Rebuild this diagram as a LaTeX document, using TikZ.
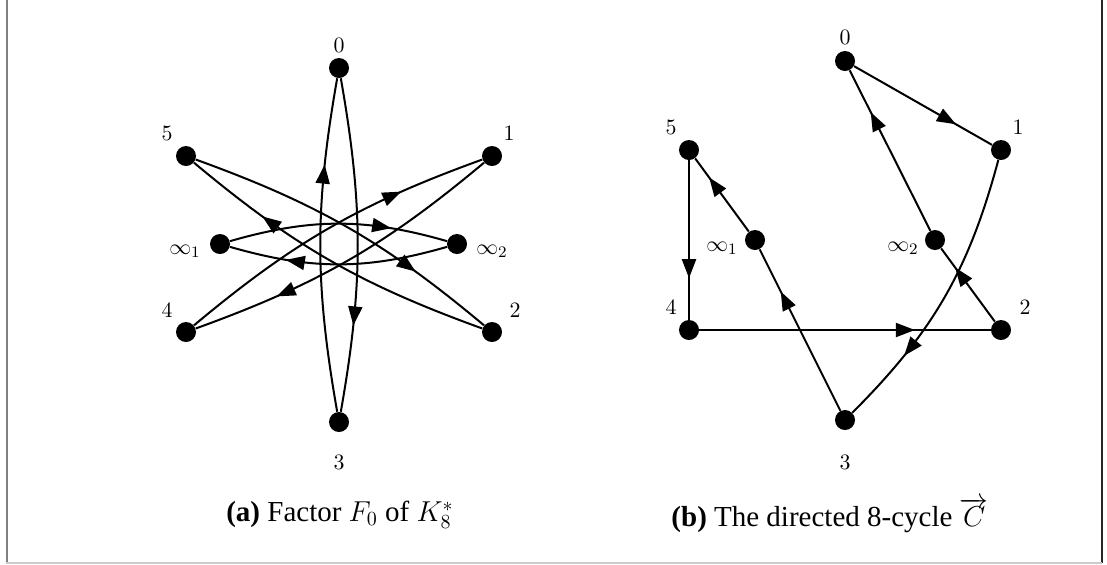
\documentclass[tikz,border=0pt]{standalone}
\usepackage{fontspec}
\setmainfont{Liberation Serif}
\usetikzlibrary{arrows.meta,decorations.markings}

\tikzset{
  vtx/.style={circle,fill=black,inner sep=0pt,minimum size=10pt},
  lbl/.style={inner sep=0pt,font=\fontsize{11}{13}\selectfont},
  captxt/.style={inner sep=0pt,font=\fontsize{14.5}{17}\selectfont},
  darc/.style={line width=1pt,postaction={decorate},
    decoration={markings,mark=at position 0.74 with {\arrow{Triangle[length=9.5pt,width=7pt]}}}},
}

\begin{document}
\begin{tikzpicture}[x=0.5pt,y=0.5pt]

\useasboundingbox (0,0) rectangle (1107,-564);

% ===== Khung =====
\draw[line width=1pt,gray] (6.5,0) -- (6.5,-564);
\draw[line width=1pt,black!85] (1102,0) -- (1102,-563);
\draw[line width=1pt,gray!40] (6,-562.5) -- (1102,-562.5);

% ===== (a) Factor F_0 =====
\foreach \n/\x/\y in {0/339/68, 1/492/156, 2/492/332, 3/339/422, 4/186/332, 5/186/156, i1/220/244, i2/457/244} {
    \node[vtx] (a\n) at (\x,-\y) {};
}

\foreach \n/\x/\y/\t in {0/339/45/0, 1/509/133/1, 2/515/310/2, 3/339/462/3, 4/167/310/4, 5/167/133/5, i1/185/251/\infty_1, i2/492/251/\infty_2} {
    \node[lbl] (la\n) at (\x,-\y) {$\t$};
}

\foreach \s/\t in {3/0, 0/3, 4/1, 1/4, 5/2, 2/5} {
    \draw[darc] (a\s) to[bend left=10] (a\t);
}
\draw[darc] (ai1) to[bend left=16] (ai2);
\draw[darc] (ai2) to[bend left=16] (ai1);

% ===== (b) Directed 8-cycle =====
\foreach \n/\x/\y in {0/845/61, 1/1001/150, 2/1001/330, 3/845/420, 4/689/330, 5/689/150, i1/755/240, i2/935/240} {
    \node[vtx] (b\n) at (\x,-\y) {};
}

\foreach \n/\x/\y/\t in {0/845/37/0, 1/1018/127/1, 2/1025/307/2, 3/845/462/3, 4/671/307/4, 5/671/127/5, i1/722/248/\infty_1, i2/903/248/\infty_2} {
    \node[lbl] (lb\n) at (\x,-\y) {$\t$};
}

\foreach \s/\t in {0/1, 3/i1, i1/5, 5/4, 4/2, 2/i2, i2/0} {
    \draw[darc] (b\s) -- (b\t);
}
\draw[darc] (b1) to[bend left=15] (b3);

% ===== Captions =====
\node[captxt] (capa) at (340,-515) {\textbf{(a)} Factor $F_0$ of $K_8^*$};
\node[captxt] (capb) at (830,-515) {\textbf{(b)} The directed 8-cycle $\overrightarrow{C}$};

\end{tikzpicture}
\end{document}
